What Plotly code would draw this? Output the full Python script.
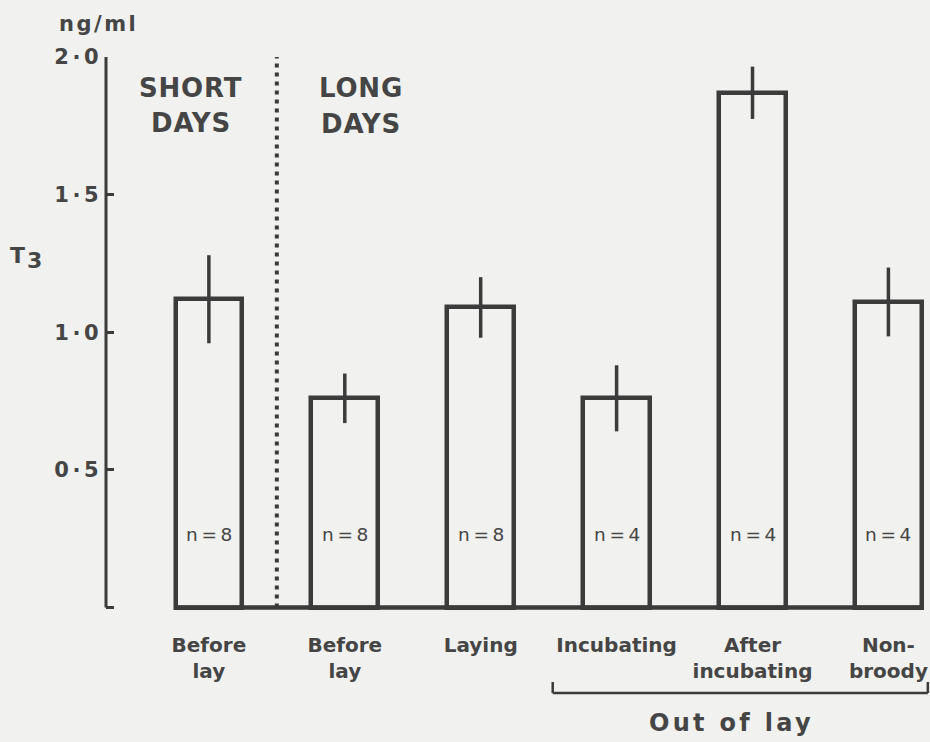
import plotly.graph_objects as go

# Plasma T3 (ng/ml), mean ± s.e.m., for each reproductive state
categories = ["Before<br>lay", "Before<br>lay", "Laying", "Incubating",
              "After<br>incubating", "Non-<br>broody"]
t3_mean = [1.12, 0.76, 1.09, 0.76, 1.87, 1.11]
t3_sem = [0.16, 0.09, 0.11, 0.12, 0.095, 0.125]
n_birds = [8, 8, 8, 4, 4, 4]
y_ticks = [0, 0.5, 1.0, 1.5, 2.0]
y_tick_text = ["", "0·5", "1·0", "1·5", "2·0"]

INK = "#3b3b3b"
TEXT = "#454545"
PAPER = "#f1f1ef"
FONT = "DejaVu Sans"
WEIGHT = 600
THIN = "\u2009"

W, H = 930, 742
ML, MR, MT, MB = 106, 0, 57, 129
BAR_W = 0.49
pos = list(range(len(categories)))


def spaced(text, px):
    """Wrap each line of a label in a span with extra tracking."""
    if not px:
        return text
    return "<br>".join(
        f"<span style='letter-spacing:{px}px'>{line}</span>" for line in text.split("<br>")
    )


def fx(px):
    return (px - ML) / (W - ML - MR)


def fy(py):
    return (H - MB - py) / (H - MT - MB)


fig = go.Figure()

fig.add_trace(go.Bar(
    x=pos, y=t3_mean, width=BAR_W,
    marker=dict(color="rgba(0,0,0,0)", line=dict(color=INK, width=4.5)),
    error_y=dict(type="data", array=t3_sem, visible=True,
                 color=INK, thickness=3.5, width=0),
    hoverinfo="skip", showlegend=False,
))

shapes = [
    # y axis spine, zero to top tick
    dict(type="line", xref="paper", yref="y", x0=0, x1=0, y0=y_ticks[0], y1=y_ticks[-1],
         line=dict(color=INK, width=3)),
    # common baseline under the bars
    dict(type="line", xref="x", yref="y", x0=pos[0] - BAR_W / 2, x1=pos[-1] + BAR_W / 2,
         y0=0, y1=0, line=dict(color=INK, width=4.5)),
    # short-day / long-day divider
    dict(type="line", xref="x", yref="y", x0=(pos[0] + pos[1]) / 2, x1=(pos[0] + pos[1]) / 2,
         y0=0, y1=y_ticks[-1], line=dict(color=INK, width=4, dash="4px,5px")),
    # "Out of lay" bracket
    dict(type="line", xref="x", yref="paper", x0=pos[3] - 0.47, x1=pos[5] + 0.29,
         y0=fy(693), y1=fy(693), line=dict(color=INK, width=2.5)),
    dict(type="line", xref="x", yref="paper", x0=pos[3] - 0.47, x1=pos[3] - 0.47,
         y0=fy(693), y1=fy(682), line=dict(color=INK, width=2.5)),
    dict(type="line", xref="x", yref="paper", x0=pos[5] + 0.29, x1=pos[5] + 0.29,
         y0=fy(693), y1=fy(682), line=dict(color=INK, width=2.5)),
]

annotations = []


def note(text, x, y, size, track=0.0, xref="paper", yref="paper", weight=WEIGHT):
    annotations.append(dict(
        text=spaced(text, track), x=x, y=y, xref=xref, yref=yref,
        showarrow=False, xanchor="center", yanchor="middle",
        font=dict(family=FONT, size=size, color=TEXT, weight=weight),
    ))


note("ng/ml", fx(98.5), fy(24), 21, 2.5)
note("T", fx(17.5), fy(255), 22)
note("3", fx(34), fy(260), 22)
note("SHORT", fx(190.5), fy(87.5), 26, 0.8)
note("DAYS", fx(190.5), fy(123), 26, 0.8)
note("LONG", fx(361), fy(88.5), 26, 0.8)
note("DAYS", fx(361), fy(124), 26, 0.8)
for p, n in zip(pos, n_birds):
    note(f"n{THIN}={THIN}{n}", p, fy(534), 18.5, xref="x", weight=400)
note("Out of lay", fx(731), fy(723), 24, 3.3)

fig.update_layout(
    width=W, height=H,
    margin=dict(l=ML, r=MR, t=MT, b=MB, pad=0),
    paper_bgcolor=PAPER, plot_bgcolor=PAPER,
    bargap=0, showlegend=False,
    shapes=shapes, annotations=annotations,
    xaxis=dict(
        range=[-0.757, 5.306], tickmode="array", tickvals=pos,
        ticktext=categories,
        tickfont=dict(family=FONT, size=20, color=TEXT, weight=WEIGHT),
        ticks="", showline=False, showgrid=False, zeroline=False,
        ticklabelstandoff=18, fixedrange=True,
    ),
    yaxis=dict(
        range=[-0.02, 2.0], tickmode="array", tickvals=y_ticks,
        ticktext=[spaced(t, 3.5) if t else t for t in y_tick_text],
        tickfont=dict(family=FONT, size=21, color=TEXT, weight=WEIGHT),
        ticks="inside", ticklen=8, tickwidth=3, tickcolor=INK,
        showline=False, showgrid=False, zeroline=False,
        ticklabelstandoff=3, fixedrange=True,
    ),
)

fig.write_html("out.html")
